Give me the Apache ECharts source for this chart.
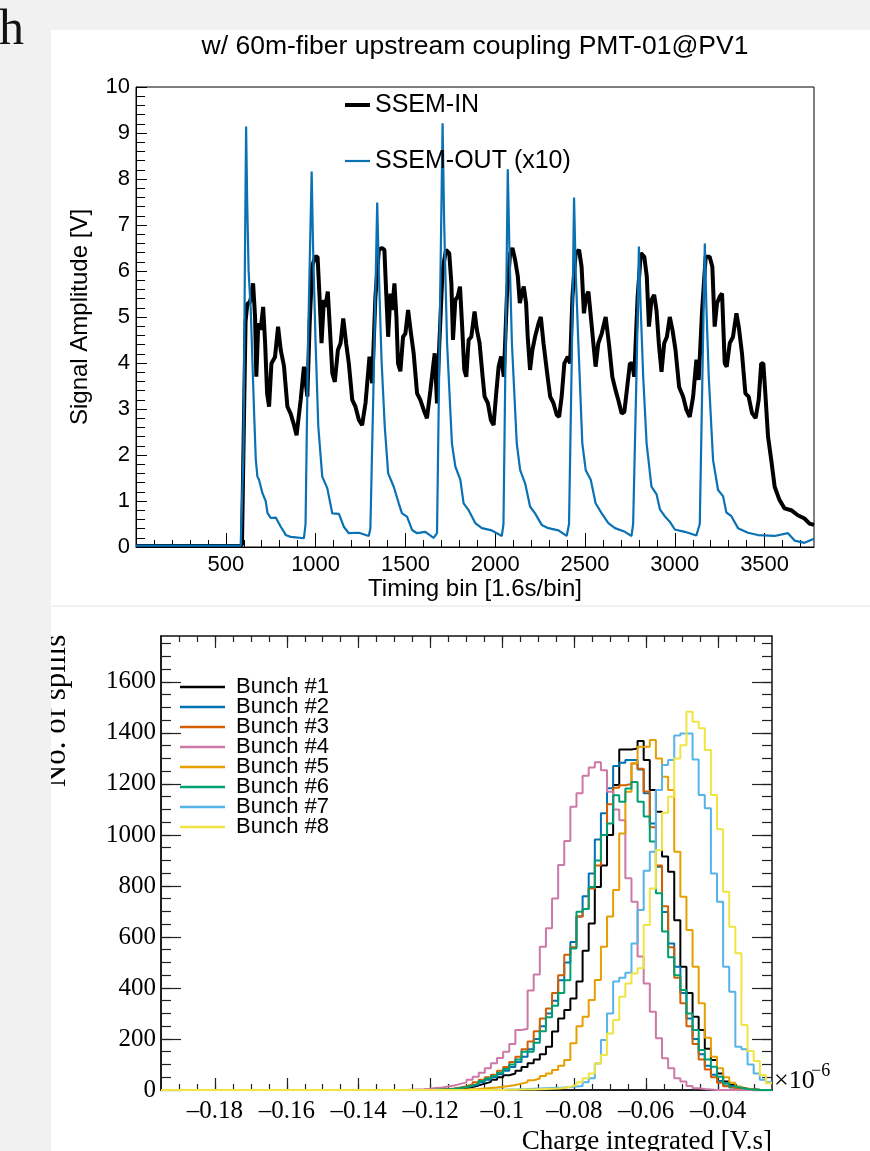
<!DOCTYPE html>
<html>
<head>
<meta charset="utf-8">
<script src="https://cdn.jsdelivr.net/npm/echarts@6/dist/echarts.min.js"></script>
<style>
  html, body { margin: 0; padding: 0; background: #f1f1f1; }
  #wrap { position: relative; width: 870px; height: 1151px; overflow: hidden; }
  .panel { position: absolute; background: #fff; }
  #chart { position: absolute; left: 0; top: 0; width: 870px; height: 1151px; }
</style>
</head>
<body>
<div id="wrap">
  <div class="panel" style="left:51px;top:30px;width:819px;height:575px"></div>
  <div class="panel" style="left:51px;top:607px;width:819px;height:544px"></div>
  <div id="chart"></div>
</div>
<script>
// top panel: [timing bin, amplitude V]
const ssemIn = [
  [0, 0.02], [560, 0.02], [590, 0.05], [600, 2.5], [610, 4.9], [620, 5.3], [632, 5.3], [639, 5.4], [652, 5.73],
  [663, 5.0], [670, 3.7], [681, 4.86], [694, 4.72], [708, 5.22], [719, 4.43], [730, 3.34], [741, 3.05],
  [754, 3.99], [774, 4.13], [791, 4.79], [806, 4.28], [824, 3.93], [843, 3.05], [861, 2.9], [880, 2.65],
  [894, 2.43], [917, 3.2], [935, 3.92], [954, 3.27], [967, 4.86], [981, 6.09], [996, 6.31], [1011, 6.31],
  [1022, 5.44], [1033, 4.43], [1046, 5.37], [1054, 5.22], [1068, 5.55], [1079, 4.79], [1093, 3.78],
  [1107, 3.59], [1124, 4.28], [1139, 4.43], [1154, 4.97], [1170, 4.43], [1185, 3.99], [1204, 3.2],
  [1222, 3.05], [1241, 2.76], [1259, 2.65], [1278, 3.13], [1300, 4.14], [1315, 3.56], [1333, 5.44],
  [1352, 6.46], [1370, 6.5], [1383, 6.46], [1394, 5.44], [1404, 4.57], [1417, 5.51], [1426, 5.15],
  [1439, 5.73], [1450, 5.0], [1459, 3.99], [1472, 3.82], [1487, 4.57], [1500, 4.64], [1515, 5.15],
  [1531, 4.64], [1546, 4.21], [1565, 3.34], [1583, 3.2], [1602, 2.98], [1620, 2.8], [1639, 3.4],
  [1663, 4.21], [1676, 3.12], [1689, 4.43], [1707, 6.02], [1726, 6.46], [1744, 6.39], [1756, 5.73],
  [1765, 4.5], [1778, 5.37], [1791, 5.44], [1804, 5.66], [1815, 4.86], [1828, 3.85], [1839, 3.7],
  [1852, 4.5], [1867, 4.57], [1885, 5.12], [1898, 4.72], [1913, 4.43], [1930, 3.7], [1941, 3.27],
  [1959, 3.13], [1976, 2.76], [1991, 2.65], [2004, 3.27], [2019, 3.92], [2033, 4.14], [2048, 3.7],
  [2065, 5.44], [2083, 6.39], [2096, 6.5], [2111, 6.24], [2126, 5.88], [2137, 5.3], [2148, 5.51],
  [2159, 5.66], [2172, 5.3], [2181, 4.57], [2194, 3.85], [2207, 4.28], [2222, 4.57], [2241, 4.86],
  [2254, 5.0], [2269, 4.43], [2287, 3.85], [2306, 3.27], [2324, 3.13], [2343, 2.87], [2356, 2.83],
  [2370, 3.27], [2385, 3.99], [2404, 4.14], [2417, 3.99], [2430, 5.44], [2448, 6.39], [2467, 6.46],
  [2481, 6.09], [2494, 5.08], [2506, 5.44], [2519, 5.55], [2529, 5.15], [2543, 4.57], [2559, 3.92],
  [2574, 4.43], [2593, 4.64], [2615, 5.0], [2633, 4.43], [2652, 3.7], [2670, 3.41], [2685, 3.2],
  [2704, 2.9], [2719, 2.94], [2735, 3.48], [2750, 3.99], [2763, 3.99], [2774, 3.7], [2793, 5.44],
  [2811, 6.39], [2830, 6.31], [2844, 5.88], [2856, 4.79], [2870, 5.37], [2885, 5.48], [2898, 5.15],
  [2911, 4.43], [2926, 3.81], [2941, 4.43], [2956, 4.57], [2972, 5.0], [2987, 4.72], [3004, 4.28],
  [3024, 3.48], [3046, 3.27], [3065, 2.98], [3083, 2.83], [3102, 3.27], [3120, 4.07], [3133, 3.63],
  [3152, 5.15], [3172, 6.31], [3194, 6.31], [3209, 6.09], [3222, 4.79], [3235, 5.3], [3250, 5.44],
  [3263, 5.51], [3278, 3.99], [3289, 3.92], [3306, 4.43], [3324, 4.57], [3343, 5.08], [3356, 4.79],
  [3374, 4.21], [3393, 3.34], [3411, 3.27], [3430, 2.91], [3450, 2.8], [3467, 3.2], [3481, 3.99],
  [3493, 3.99], [3504, 3.34], [3519, 2.4], [3537, 1.89], [3556, 1.31], [3583, 1.02], [3611, 0.84],
  [3648, 0.8], [3685, 0.69], [3722, 0.62], [3750, 0.51], [3775, 0.48]
];

const ssemOut = [
  [0, 0.03], [583, 0.03], [598, 2.0], [607, 6.5], [613, 9.14], [619, 7.5], [627, 6.0], [639, 5.15],
  [657, 2.98], [667, 1.9], [676, 1.53], [685, 1.46], [704, 1.17], [722, 1.0], [732, 0.74], [741, 0.7],
  [750, 0.63], [778, 0.64], [787, 0.6], [806, 0.44], [824, 0.33], [833, 0.26], [861, 0.22], [889, 0.21],
  [935, 0.19], [944, 0.5], [958, 4.5], [978, 8.16], [986, 6.5], [1000, 4.43], [1015, 2.62], [1037, 1.53],
  [1065, 1.28], [1093, 0.73], [1130, 0.72], [1157, 0.44], [1185, 0.3], [1241, 0.31], [1296, 0.24],
  [1305, 0.4], [1325, 4.0], [1343, 7.49], [1352, 6.0], [1367, 4.07], [1385, 2.62], [1404, 1.6],
  [1435, 1.31], [1463, 0.95], [1481, 0.73], [1509, 0.66], [1537, 0.37], [1565, 0.3], [1611, 0.33],
  [1657, 0.2], [1676, 0.3], [1692, 5.0], [1707, 9.21], [1716, 7.0], [1732, 4.43], [1759, 2.25],
  [1778, 1.75], [1806, 1.46], [1824, 0.95], [1852, 0.8], [1889, 0.52], [1926, 0.41], [1981, 0.36],
  [2037, 0.24], [2046, 0.5], [2060, 5.0], [2070, 8.21], [2079, 6.5], [2093, 4.43], [2120, 2.25],
  [2139, 1.67], [2167, 1.38], [2194, 0.88], [2222, 0.73], [2259, 0.48], [2296, 0.41], [2352, 0.36],
  [2398, 0.24], [2411, 0.5], [2428, 4.5], [2439, 7.6], [2448, 6.0], [2463, 4.43], [2485, 2.25],
  [2504, 1.67], [2532, 1.46], [2559, 0.95], [2593, 0.73], [2630, 0.52], [2667, 0.41], [2722, 0.33],
  [2759, 0.24], [2768, 0.5], [2788, 4.0], [2800, 6.53], [2810, 5.2], [2824, 3.7], [2843, 2.25],
  [2870, 1.31], [2898, 1.15], [2917, 0.82], [2944, 0.67], [2972, 0.55], [3000, 0.38], [3056, 0.33],
  [3120, 0.25], [3139, 0.5], [3155, 4.0], [3167, 6.6], [3176, 5.2], [3189, 3.7], [3213, 1.89],
  [3241, 1.24], [3269, 1.1], [3287, 0.75], [3315, 0.67], [3352, 0.41], [3407, 0.31], [3463, 0.26],
  [3556, 0.24], [3630, 0.3], [3667, 0.14], [3722, 0.09], [3775, 0.18]
];

// bottom panel: 100 bins of 0.0017 from -0.195, counts listed from bin 40 on
const binStart = -0.195;
const binWidth = 0.0017;
const nBins = 100;
const firstBin = 40;

const bunchNames = ["Bunch #1", "Bunch #2", "Bunch #3", "Bunch #4", "Bunch #5", "Bunch #6", "Bunch #7", "Bunch #8"];
const bunchColors = ["#000000", "#0072b2", "#d55e00", "#cc79a7", "#e69f00", "#009e73", "#56b4e9", "#f0e442"];

const bunch1 = [
  0, 0, 0, 0, 0, 1, 2, 3, 5, 8,
  12, 18, 25, 32, 40, 50, 58, 65, 75, 90,
  105, 120, 140, 170, 229, 280, 314, 359, 425, 546,
  653, 796, 880, 1000, 1196, 1335, 1335, 1339, 1368, 1294,
  1176, 1091, 915, 856, 666, 483, 380, 287, 235, 162,
  118, 65, 33, 20, 10, 5, 3, 1, 0, 0
];
const bunch2 = [
  0, 0, 0, 0, 1, 2, 3, 5, 8, 12,
  16, 22, 30, 40, 50, 62, 75, 90, 110, 130,
  160, 200, 250, 300, 350, 430, 500, 580, 680, 760,
  849, 982, 1085, 1183, 1270, 1283, 1294, 1294, 1257, 1163,
  1045, 875, 698, 574, 483, 380, 280, 200, 140, 95,
  60, 35, 18, 10, 5, 2, 0, 0, 0, 0
];
const bunch3 = [
  0, 0, 0, 0, 1, 2, 4, 6, 10, 15,
  22, 30, 40, 50, 60, 75, 90, 110, 130, 160,
  190, 230, 280, 320, 380, 450, 530, 560, 680, 710,
  790, 880, 1000, 1120, 1185, 1195, 1200, 1280, 1260, 1170,
  1030, 880, 720, 560, 440, 340, 250, 180, 120, 80,
  50, 28, 15, 8, 4, 2, 0, 0, 0, 0
];
const bunch4 = [
  1, 2, 3, 5, 8, 10, 14, 18, 24, 30,
  40, 52, 68, 85, 105, 125, 150, 180, 235, 240,
  390, 453, 562, 634, 751, 882, 976, 1111, 1163, 1232,
  1264, 1285, 1254, 1169, 1100, 1058, 830, 738, 523, 418,
  307, 203, 124, 85, 46, 33, 16, 7, 4, 2,
  0, 0, 0, 0, 0, 0, 0, 0, 0, 0
];
const bunch5 = [
  0, 0, 0, 0, 0, 0, 0, 1, 1, 2,
  3, 4, 6, 8, 10, 13, 16, 20, 25, 30,
  38, 45, 55, 65, 78, 95, 118, 183, 250, 287,
  353, 431, 562, 680, 784, 1006, 1169, 1281, 1346, 1346,
  1372, 1300, 1228, 1176, 934, 758, 627, 483, 340, 205,
  130, 85, 50, 28, 14, 6, 3, 0, 0, 0
];
const bunch6 = [
  0, 0, 0, 0, 1, 2, 3, 5, 8, 12,
  18, 25, 35, 45, 55, 68, 82, 100, 120, 150,
  150, 185, 230, 285, 330, 380, 430, 555, 699, 710,
  796, 900, 1000, 1045, 1156, 1130, 1182, 1208, 1130, 1072,
  974, 771, 621, 520, 450, 392, 300, 235, 157, 120,
  91, 52, 26, 15, 8, 4, 2, 0, 0, 0
];
const bunch7 = [
  0, 0, 0, 0, 0, 0, 0, 0, 0, 0,
  0, 0, 0, 0, 1, 1, 2, 2, 3, 4,
  5, 6, 7, 8, 9, 10, 12, 14, 16, 30,
  46, 104, 196, 300, 425, 440, 460, 574, 706, 860,
  934, 1176, 1274, 1294, 1390, 1398, 1398, 1296, 1157, 1105,
  849, 738, 483, 385, 170, 160, 100, 65, 40, 30
];
const bunch8 = [
  0, 0, 0, 0, 0, 0, 0, 0, 0, 0,
  0, 0, 0, 0, 0, 0, 1, 1, 2, 2,
  2, 3, 4, 5, 6, 8, 13, 20, 30, 46,
  65, 104, 137, 222, 274, 366, 418, 457, 477, 647,
  790, 940, 1087, 1150, 1300, 1352, 1483, 1444, 1418, 1333,
  1157, 1022, 777, 640, 536, 255, 153, 114, 59, 26
];
const bunchCounts = [bunch1, bunch2, bunch3, bunch4, bunch5, bunch6, bunch7, bunch8];

// tick values
const timeMajor = [0, 500, 1000, 1500, 2000, 2500, 3000, 3500];
const timeLabels = [500, 1000, 1500, 2000, 2500, 3000, 3500];
const chargeMajor = [-0.18, -0.16, -0.14, -0.12, -0.1, -0.08, -0.06, -0.04];
const spillMajor = [0, 200, 400, 600, 800, 1000, 1200, 1400, 1600];

const timeMinor = [];
for (let t = 100; t < 3775; t += 100) timeMinor.push(t);
const chargeMinor = [];
for (let k = -38; k <= -6; k++) chargeMinor.push(k * 0.005);
const spillMinor = [];
for (let s = 50; s < 1780; s += 50) spillMinor.push(s);

function histPoints(counts) {
  const pts = [];
  for (let i = 0; i < nBins; i++) {
    const k = i - firstBin;
    const c = k >= 0 && k < counts.length ? counts[k] : 0;
    pts.push([binStart + i * binWidth, c]);
  }
  pts.push([binStart + nBins * binWidth, pts[nBins - 1][1]]);
  return pts;
}

const sans = "Liberation Sans";
const serif = "Liberation Serif";
const plain = (v) => String(v);

function tickAxis(extra) {
  return Object.assign({
    type: "value",
    axisLine: {show: false, onZero: false},
    axisLabel: {show: false},
    splitLine: {show: false},
  }, extra);
}

const chart = echarts.init(document.getElementById("chart"), null, {renderer: "canvas"});

const histSeries = bunchNames.map((name, i) => ({
  name: name,
  type: "line",
  step: "end",
  xAxisIndex: 2,
  yAxisIndex: 1,
  data: histPoints(bunchCounts[i]),
  symbol: "none",
  color: bunchColors[i],
  lineStyle: {width: 2, color: bunchColors[i]},
  z: 3 + i,
}));

const option = {
  animation: false,
  backgroundColor: "transparent",
  grid: [
    {left: 136, top: 87, width: 678, height: 460, show: true, borderColor: "#000", borderWidth: 1, backgroundColor: "transparent"},
    {left: 161, top: 636, width: 611, height: 454, show: true, borderColor: "#111", borderWidth: 1.5, backgroundColor: "transparent"},
  ],
  xAxis: [
    {
      type: "value", gridIndex: 0, min: 0, max: 3775, position: "bottom",
      axisLine: {show: true, onZero: false, lineStyle: {color: "#000", width: 1}},
      axisTick: {show: true, inside: true, length: 14, customValues: timeMajor, lineStyle: {color: "#000"}},
      axisLabel: {customValues: timeLabels, formatter: plain, fontSize: 22, fontFamily: sans, color: "#000", margin: 7},
      splitLine: {show: false},
      name: "Timing bin [1.6s/bin]", nameLocation: "middle", nameGap: 26,
      nameTextStyle: {fontSize: 24, fontFamily: sans, color: "#000"},
    },
    tickAxis({gridIndex: 0, min: 0, max: 3775, position: "bottom",
      axisTick: {show: true, inside: true, length: 7, customValues: timeMinor, lineStyle: {color: "#000"}}}),
    {
      type: "value", gridIndex: 1, min: -0.195, max: -0.025, position: "bottom",
      axisLine: {show: true, onZero: false, lineStyle: {color: "#111", width: 1.5}},
      axisTick: {show: true, inside: true, length: 12, customValues: chargeMajor, lineStyle: {color: "#222", width: 1.2}},
      axisLabel: {
        customValues: chargeMajor, fontSize: 25, fontFamily: serif, color: "#000", margin: 9,
        formatter: (v) => "\u2013" + parseFloat(Math.abs(v).toFixed(2)).toString(),
      },
      splitLine: {show: false},
    },
    tickAxis({gridIndex: 1, min: -0.195, max: -0.025, position: "bottom",
      axisTick: {show: true, inside: true, length: 6, customValues: chargeMinor, lineStyle: {color: "#222", width: 1.2}}}),
    tickAxis({gridIndex: 1, min: -0.195, max: -0.025, position: "top",
      axisTick: {show: true, inside: true, length: 12, customValues: chargeMajor, lineStyle: {color: "#222", width: 1.2}}}),
    tickAxis({gridIndex: 1, min: -0.195, max: -0.025, position: "top",
      axisTick: {show: true, inside: true, length: 6, customValues: chargeMinor, lineStyle: {color: "#222", width: 1.2}}}),
  ],
  yAxis: [
    {
      type: "value", gridIndex: 0, min: 0, max: 10, interval: 1, position: "left",
      axisLine: {show: true, onZero: false, lineStyle: {color: "#000", width: 1}},
      axisTick: {show: true, inside: true, length: 11, lineStyle: {color: "#000"}},
      minorTick: {show: true, splitNumber: 5, length: 9, lineStyle: {color: "#000"}},
      axisLabel: {formatter: plain, fontSize: 22, fontFamily: sans, color: "#000", margin: 6},
      splitLine: {show: false},
      name: "Signal Amplitude [V]", nameLocation: "middle", nameGap: 44,
      nameTextStyle: {fontSize: 24, fontFamily: sans, color: "#000"},
    },
    {
      type: "value", gridIndex: 1, min: 0, max: 1780, position: "left",
      axisLine: {show: true, onZero: false, lineStyle: {color: "#111", width: 1.5}},
      axisTick: {show: true, inside: true, length: 20, customValues: spillMajor, lineStyle: {color: "#222", width: 1.2}},
      axisLabel: {customValues: spillMajor, formatter: plain, fontSize: 25, fontFamily: serif, color: "#000", margin: 5},
      splitLine: {show: false},
    },
    tickAxis({gridIndex: 1, min: 0, max: 1780, position: "left",
      axisTick: {show: true, inside: true, length: 10, customValues: spillMinor, lineStyle: {color: "#222", width: 1.2}}}),
    tickAxis({gridIndex: 1, min: 0, max: 1780, position: "right",
      axisTick: {show: true, inside: true, length: 20, customValues: spillMajor, lineStyle: {color: "#222", width: 1.2}}}),
    tickAxis({gridIndex: 1, min: 0, max: 1780, position: "right",
      axisTick: {show: true, inside: true, length: 10, customValues: spillMinor, lineStyle: {color: "#222", width: 1.2}}}),
  ],
  legend: [
    {
      data: ["SSEM-IN"], icon: "rect",
      orient: "vertical", left: 345, top: 92, padding: 0,
      itemWidth: 25, itemHeight: 4, selectedMode: false,
      textStyle: {fontSize: 25, lineHeight: 26, fontFamily: sans, color: "#000"},
    },
    {
      data: ["SSEM-OUT (x10)"], icon: "rect",
      orient: "vertical", left: 345, top: 148, padding: 0,
      itemWidth: 25, itemHeight: 2.2, selectedMode: false,
      textStyle: {fontSize: 25, lineHeight: 26, fontFamily: sans, color: "#000"},
    },
    {
      data: bunchNames, icon: "rect",
      orient: "vertical", left: 180, top: 676, padding: 0,
      itemWidth: 45, itemHeight: 2.5, itemGap: -2, selectedMode: false,
      textStyle: {fontSize: 22, lineHeight: 20, fontFamily: sans, color: "#000", padding: [0, 0, 0, 6]},
    },
  ],
  series: [
    {
      name: "SSEM-IN", type: "line", xAxisIndex: 0, yAxisIndex: 0, data: ssemIn,
      symbol: "none", color: "#000", lineStyle: {width: 4, color: "#000"}, z: 2,
    },
    {
      name: "SSEM-OUT (x10)", type: "line", xAxisIndex: 0, yAxisIndex: 0, data: ssemOut,
      symbol: "none", color: "#0a72b4", lineStyle: {width: 2.2, color: "#0a72b4"}, z: 3,
    },
  ].concat(histSeries),
  graphic: [
    {type: "text", x: -1, y: 31, style: {text: "h", font: "50px " + serif, fill: "#111", verticalAlign: "middle"}},
    {type: "text", x: 475, y: 47, style: {text: "w/ 60m-fiber upstream coupling PMT-01@PV1", font: "26.5px " + sans, fill: "#000", align: "center", verticalAlign: "middle"}},
    {type: "text", x: 57, y: 711, rotation: Math.PI / 2, style: {text: "No. of spills", font: "31px " + serif, fill: "#000", align: "center", verticalAlign: "middle"}},
    {type: "rect", shape: {x: 0, y: 607, width: 51, height: 544}, style: {fill: "#f1f1f1"}, z: 100},
    {type: "text", x: 774, y: 1081, style: {text: "\u00d710", font: "26px " + serif, fill: "#000", verticalAlign: "middle"}},
    {type: "text", x: 811, y: 1071, style: {text: "\u22126", font: "18px " + serif, fill: "#000", verticalAlign: "middle"}},
    {type: "text", x: 772, y: 1128, style: {text: "Charge integrated [V.s]", font: "27px " + serif, fill: "#000", align: "right", verticalAlign: "top"}},
  ],
};

chart.setOption(option);
</script>
</body>
</html>
